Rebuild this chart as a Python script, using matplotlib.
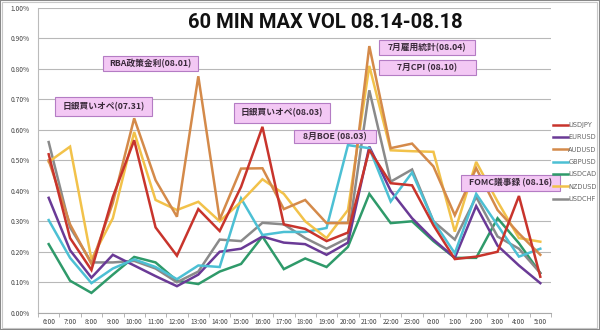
import matplotlib
matplotlib.use('Agg')
import matplotlib.pyplot as plt
from matplotlib.patches import Rectangle
from matplotlib.ticker import FixedLocator, FuncFormatter

plt.rcParams['font.family'] = ['Noto Sans CJK JP', 'DejaVu Sans']

hours = ['6:00', '7:00', '8:00', '9:00', '10:00', '11:00', '12:00', '13:00', '14:00',
         '15:00', '16:00', '17:00', '18:00', '19:00', '20:00', '21:00', '22:00', '23:00',
         '0:00', '1:00', '2:00', '3:00', '4:00', '5:00']

usdjpy = [0.52, 0.245, 0.14, 0.38, 0.566, 0.28, 0.187, 0.34, 0.268, 0.413, 0.61, 0.29,
          0.275, 0.235, 0.263, 0.535, 0.425, 0.418, 0.287, 0.176, 0.184, 0.20, 0.383, 0.118]
eurusd = [0.377, 0.205, 0.115, 0.19, 0.155, 0.12, 0.087, 0.125, 0.20, 0.21, 0.25, 0.23,
          0.225, 0.19, 0.23, 0.545, 0.40, 0.31, 0.24, 0.18, 0.35, 0.22, 0.155, 0.097]
audusd = [0.50, 0.29, 0.16, 0.36, 0.638, 0.435, 0.315, 0.776, 0.306, 0.473, 0.474, 0.34,
          0.37, 0.294, 0.294, 0.875, 0.54, 0.555, 0.48, 0.32, 0.474, 0.337, 0.26, 0.19]
gbpusd = [0.304, 0.18, 0.097, 0.145, 0.175, 0.15, 0.11, 0.155, 0.15, 0.375, 0.255, 0.265,
          0.265, 0.278, 0.55, 0.54, 0.365, 0.46, 0.30, 0.195, 0.39, 0.287, 0.184, 0.21]
usdcad = [0.225, 0.105, 0.065, 0.125, 0.183, 0.165, 0.105, 0.094, 0.135, 0.16, 0.25, 0.143,
          0.178, 0.15, 0.216, 0.39, 0.294, 0.30, 0.235, 0.18, 0.18, 0.31, 0.228, 0.13]
nzdusd = [0.495, 0.545, 0.175, 0.31, 0.593, 0.37, 0.337, 0.364, 0.30, 0.364, 0.438, 0.39,
          0.30, 0.245, 0.337, 0.81, 0.533, 0.53, 0.528, 0.266, 0.495, 0.365, 0.245, 0.233]
usdchf = [0.56, 0.28, 0.165, 0.165, 0.17, 0.145, 0.10, 0.135, 0.24, 0.235, 0.295, 0.29,
          0.245, 0.21, 0.245, 0.73, 0.43, 0.47, 0.30, 0.24, 0.38, 0.25, 0.21, 0.13]

series_names = ['USDJPY', 'EURUSD', 'AUDUSD', 'GBPUSD', 'USDCAD', 'NZDUSD', 'USDCHF']
series_vals = [usdjpy, eurusd, audusd, gbpusd, usdcad, nzdusd, usdchf]
colors = ['#c8342c', '#6a3a96', '#d48a4a', '#4cc0d4', '#2f9a6a', '#f2c24a', '#8a8a8a']

events = ['日銀買いオペ(07.31)', 'RBA政策金利(08.01)', '日銀買いオペ(08.03)', '8月BOE (08.03)',
          '7月雇用統計(08.04)', '7月CPI (08.10)', 'FOMC議事録 (08.16)']

W, H = 600, 330
fig = plt.figure(figsize=(W / 100, H / 100), dpi=100)
fig.patch.set_facecolor('white')

ax = fig.add_axes([38 / W, 1 - 312.7 / H, (551 - 38) / W, (312.7 - 8) / H])
x = list(range(len(hours)))
order = [4, 6, 1, 3, 5, 2, 0]
for i in order:
    ax.plot(x, series_vals[i], color=colors[i], lw=1.8, label=series_names[i], zorder=3,
            solid_joinstyle='miter')

ax.set_xlim(-0.5, len(hours) - 0.5)
ax.set_ylim(0, 1.0)
yt = [i / 10 for i in range(11)]
ax.yaxis.set_major_locator(FixedLocator(yt))
ax.yaxis.set_major_formatter(FuncFormatter(lambda v, p: f'{v:.2f}%'))
ax.set_xticks(x)
ax.set_xticklabels(hours)
ax.set_xticks([i - 0.5 for i in range(len(hours) + 1)], minor=True)
ax.tick_params(axis='x', which='major', length=0, labelsize=4.8, colors='#444444', pad=4)
ax.tick_params(axis='x', which='minor', length=3, color='#aaaaaa', width=0.6)
ax.tick_params(axis='y', which='major', length=0, labelsize=4.8, colors='#444444', pad=6)
ax.grid(axis='y', color='#b8b8b8', lw=0.8)
ax.set_axisbelow(True)
for s in ['top', 'right']:
    ax.spines[s].set_visible(False)
ax.spines['left'].set_color('#bbbbbb')
ax.spines['left'].set_linewidth(0.8)
ax.spines['bottom'].set_color('#aaaaaa')
ax.spines['bottom'].set_linewidth(0.8)

handles, labels = ax.get_legend_handles_labels()
hmap = dict(zip(labels, handles))
leg = fig.legend([hmap[n] for n in series_names], series_names,
                 loc='upper left', bbox_to_anchor=(551 / W, 1 - 120 / H),
                 frameon=False, fontsize=4.8, handlelength=2.2, handletextpad=0.1,
                 labelspacing=0.95, borderpad=0, borderaxespad=0.3)
for t in leg.get_texts():
    t.set_color('#666666')
    t.set_family(['DejaVu Sans'])

fig.text(325 / W, 1 - 22 / H, '60 MIN MAX VOL 08.14-08.18', ha='center', va='center',
         fontsize=14.5, fontweight='bold', family=['Roboto', 'DejaVu Sans'], color='#111111')

boxes = [(55, 97, 152, 116), (103, 56, 198, 71), (234, 103, 330, 123), (294, 130, 376, 143),
         (379, 40, 475, 55), (379, 60, 476, 75), (461, 175, 560, 191)]
for (x0, y0, x1, y1), label in zip(boxes, events):
    fig.patches.append(Rectangle((x0 / W, 1 - y1 / H), (x1 - x0) / W, (y1 - y0) / H,
                                 transform=fig.transFigure, facecolor='#f3c8f4',
                                 edgecolor='#b47cc4', lw=0.8, zorder=5))
    fig.text((x0 + x1) / 2 / W, 1 - (y0 + y1) / 2 / H, label, ha='center', va='center',
             fontsize=6.3, fontweight='bold', color='#3a2a3a', zorder=6)

fig.patches.append(Rectangle((2 / W, 2 / H), 595 / W, 326 / H, transform=fig.transFigure,
                             fill=False, edgecolor='#c8c8c8', lw=0.8, zorder=1))
fig.patches.append(Rectangle((0, 0), 1, 1, transform=fig.transFigure,
                             fill=False, edgecolor='#888888', lw=1.5, zorder=1))

fig.savefig('out.png', dpi=100)
